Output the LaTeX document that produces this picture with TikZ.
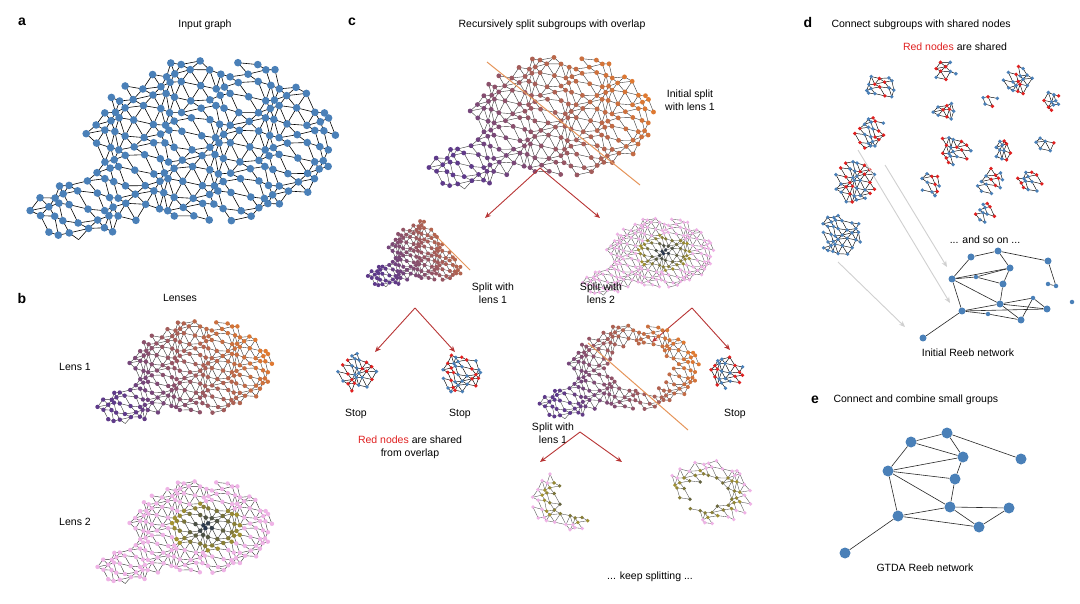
\documentclass[tikz,border=0pt]{standalone}
\usepackage{fontspec}
\setmainfont{Liberation Sans}
\usetikzlibrary{arrows.meta}
\begin{document}
\definecolor{nblue}{HTML}{4A80B8}
\definecolor{lorange}{HTML}{E07A30}
\definecolor{lpurple}{HTML}{5E3A8A}
\definecolor{lpink}{HTML}{EFB3E6}
\definecolor{lolive}{HTML}{A8962E}
\definecolor{lnavy}{HTML}{1E2E50}
\definecolor{nred}{HTML}{E02020}
\definecolor{ared}{HTML}{B83434}
\definecolor{agray}{HTML}{D0D0D0}
\newcommand\ptcalc[2]{%
 \pgfmathsetmacro\px{(#1)+0.5*(#2)+0.28*sin(97*(#1)+53*(#2))}%
 \pgfmathsetmacro\py{0.87*(#2)+0.28*cos(71*(#1)+131*(#2))}%
 \pgfmathsetmacro\qa{(\px-1.4)/9}\pgfmathsetmacro\qb{(\py+0.4)/5.9}%
 \pgfmathsetmacro\qc{(\px+7.7)/4.5}\pgfmathsetmacro\qd{(\py-4.6)/2.2}%
 \pgfmathtruncatemacro\pin{((\qa*\qa+\qb*\qb<1) || (\qc*\qc+\qd*\qd<1)) && (\filt)}}
% #1 cx #2 cy #3 scale #4 mode #5 filter #6 node radius #7 edge style
\newcommand\graphblob[7]{%
 \def\filt{#5}\def\mode{#4}%
 \pgfmathsetmacro\shx{#1}\pgfmathsetmacro\shy{#2}%
 \begin{scope}[shift={(\shx,\shy)},x=#3pt,y=-#3pt]
 \foreach \u in {-15,...,11}{\foreach \v in {-7,...,7}{%
  \ptcalc{\u}{\v}%
  \ifnum\pin=1
   \let\ax\px\let\ay\py
   \pgfmathtruncatemacro\nu{\u+1}\pgfmathtruncatemacro\nv{\v+1}\pgfmathtruncatemacro\nw{\u-1}%
   \ptcalc{\nu}{\v}\ifnum\pin=1 \draw[#7] (\ax,\ay)--(\px,\py);\fi
   \ptcalc{\u}{\nv}\ifnum\pin=1 \draw[#7] (\ax,\ay)--(\px,\py);\fi
   \pgfmathtruncatemacro\keep{sin(37*\u+61*\v)>-0.2}%
   \ptcalc{\nw}{\nv}\ifnum\pin\keep=11 \draw[#7] (\ax,\ay)--(\px,\py);\fi
  \fi}}
 \foreach \u in {-15,...,11}{\foreach \v in {-7,...,7}{%
  \ptcalc{\u}{\v}%
  \ifnum\pin=1
   \ifcase\mode \def\nc{nblue}%
   \or \pgfmathtruncatemacro\t{max(0,min(100,(\px-0.7*\py+11)*100/22))}\def\nc{lorange!\t!lpurple}%
   \or \pgfmathsetmacro\r{sqrt((\px-2.1)*(\px-2.1)+2*(\py+0.4)*(\py+0.4))}%
       \pgfmathtruncatemacro\t{min(100,100*\r/4.5)}%
       \ifdim\r pt>4.5pt \def\nc{lpink}\else\def\nc{lolive!\t!lnavy}\fi
   \or \pgfmathtruncatemacro\rd{sin(113*\u+29*\v)>0.3}%
       \ifnum\rd=1 \def\nc{nred}\else\def\nc{nblue}\fi
   \fi
   \fill[\nc] (\px,\py) circle[radius=#6pt];
  \fi}}
 \end{scope}}
\newcommand\cluster[5]{\graphblob{#1-(#3)*7}{#2-(#4)*7}{7}{3}{(\px-(#3))*(\px-(#3))+(\py-(#4))*(\py-(#4))<#5}{1.9}{black,line width=0.45pt}}
\begin{tikzpicture}[x=1pt,y=-1pt,
  lab/.style={font=\fontsize{10.5}{13}\selectfont,align=center},
  let/.style={font=\bfseries\fontsize{14}{16}\selectfont},
  sp/.style={ared,line width=0.9pt,-{Stealth[length=6pt,width=5pt]}},
  ga/.style={agray,line width=0.9pt,-{Stealth[length=6pt,width=5pt]}},
  cut/.style={lorange!80,line width=1pt},
  rn/.style={circle,fill=nblue,inner sep=0,minimum size=7pt},
  rs/.style={circle,fill=nblue,inner sep=0,minimum size=4.5pt},
  gn/.style={circle,fill=nblue,inner sep=0,minimum size=11pt}]
\useasboundingbox (0,0) rectangle (1080,604);
\fill[white] (0,0) rectangle (1080,604);
% a
\node[let] (la) at (22,22) {a};
\node[lab] (ta) at (205,25) {Input graph};
\graphblob{192}{146}{14}{0}{1}{3.8}{black,line width=0.6pt}
% b
\node[let] (lb) at (22,298) {b};
\node[lab] (tb) at (180,298) {Lenses};
\node[lab] (tl1) at (75,367) {Lens 1};
\node[lab] (tl2) at (75,522) {Lens 2};
\graphblob{190}{370}{8}{1}{1}{2.2}{black!80,line width=0.4pt}
\graphblob{190}{530}{8}{2}{1}{2.2}{black!80,line width=0.4pt}
% c
\node[let] (lc) at (352,22) {c};
\node[lab] (tc) at (552,25) {Recursively split subgroups with overlap};
\graphblob{548}{120}{10.3}{1}{1}{2.4}{black!80,line width=0.4pt}
\coordinate (c1a) at (487,62); \coordinate (c1b) at (640,185);
\draw[cut] (c1a)--(c1b);
\node[lab] (tis) at (690,100) {Initial split\\with lens 1};
\coordinate (ap1) at (540,168); \coordinate (e1a) at (485,218); \coordinate (e1b) at (600,218);
\draw[sp] (ap1)--(e1a); \draw[sp] (ap1)--(e1b);
\graphblob{428}{252}{5.2}{1}{\px-0.8*\py<4.2}{2}{black!80,line width=0.35pt}
\coordinate (c2a) at (438,238); \coordinate (c2b) at (470,270);
\draw[cut] (c2a)--(c2b);
\graphblob{652}{255}{6}{2}{1}{1.8}{black!70,line width=0.35pt}
\node[lab] (ts1) at (493,293) {Split with\\lens 1};
\node[lab] (ts2) at (601,293) {Split with\\lens 2};
\coordinate (ap2) at (415,308); \coordinate (e2a) at (375,352); \coordinate (e2b) at (455,352);
\draw[sp] (ap2)--(e2a); \draw[sp] (ap2)--(e2b);
\coordinate (ap3) at (692,308); \coordinate (e3a) at (652,342); \coordinate (e3b) at (730,350);
\draw[sp] (ap3)--(e3a); \draw[sp] (ap3)--(e3b);
\cluster{357}{372}{2}{-1}{8}
\cluster{460}{374}{-1}{0}{9}
\cluster{727}{372}{3}{1}{6}
\node[lab] (st1) at (356,414) {Stop};
\node[lab] (st2) at (460,414) {Stop};
\node[lab] (st3) at (735,414) {Stop};
\node[lab] (trn) at (410,447) {\textcolor{nred}{Red nodes} are shared\\from overlap};
\graphblob{624}{370}{7.3}{1}{(\px-2.1)*(\px-2.1)+2*(\py+0.4)*(\py+0.4)>17.6}{2}{black!80,line width=0.35pt}
\coordinate (c3a) at (588,343); \coordinate (c3b) at (688,430);
\draw[cut] (c3a)--(c3b);
\node[lab] (ts3) at (553,433) {Split with\\lens 1};
\coordinate (ap4) at (580,432); \coordinate (e4a) at (540,462); \coordinate (e4b) at (622,462);
\draw[sp] (ap4)--(e4a); \draw[sp] (ap4)--(e4b);
\graphblob{560}{502}{8}{2}{(\px-2.1)*(\px-2.1)+2*(\py+0.4)*(\py+0.4)<36 && (\px-2.1)*(\px-2.1)+2*(\py+0.4)*(\py+0.4)>5 && \px-0.8*\py<2.1}{1.9}{black!70,line width=0.35pt}
\graphblob{690}{497}{8}{2}{(\px-2.1)*(\px-2.1)+2*(\py+0.4)*(\py+0.4)<36 && (\px-2.1)*(\px-2.1)+2*(\py+0.4)*(\py+0.4)>5 && \px-0.8*\py>-1.4 && \px>-5.6}{1.9}{black!70,line width=0.35pt}
\node[lab] (tks) at (650,577) {... keep splitting ...};
% d
\node[let] (ld) at (808,22) {d};
\node[lab,anchor=west] (td) at (828,25) {Connect subgroups with shared nodes};
\node[lab] (trd) at (955,47) {\textcolor{nred}{Red nodes} are shared};
\cluster{880}{87}{0}{-2}{5}
\cluster{945}{72}{4}{-1}{2.5}
\cluster{1018}{82}{-2}{2}{5}
\cluster{1050}{100}{5}{0}{3}
\cluster{870}{132}{-6}{3}{6}
\cluster{945}{112}{1}{1}{3}
\cluster{990}{102}{3}{-3}{1.5}
\cluster{955}{150}{-1}{-2}{6}
\cluster{1005}{150}{6}{-2}{2.5}
\cluster{1045}{145}{0}{2}{2}
\cluster{855}{182}{2}{0}{10}
\cluster{930}{185}{-3}{1}{3}
\cluster{990}{182}{4}{2}{4}
\cluster{1030}{182}{-1}{-1}{3.5}
\cluster{985}{212}{2}{-3}{2.5}
\graphblob{840-7*(-1)}{235-7*(1)}{7}{0}{(\px+1)*(\px+1)+(\py-1)*(\py-1)<10}{1.9}{black,line width=0.45pt}
\coordinate (g1a) at (885,165); \coordinate (g1b) at (947,267);
\coordinate (g2a) at (858,150); \coordinate (g2b) at (950,303);
\coordinate (g3a) at (838,262); \coordinate (g3b) at (905,327);
\draw[ga] (g1a)--(g1b); \draw[ga] (g2a)--(g2b); \draw[ga] (g3a)--(g3b);
\node[lab] (tso) at (985,240) {... and so on ...};
\node[rn] (rA) at (971,257) {}; \node[rn] (rB) at (998,251) {};
\node[rn] (rC) at (1048,261) {}; \node[rn] (rD) at (1010,268) {};
\node[rn] (rE) at (952,279) {}; \node[rs] (rF) at (976,277) {};
\node[rn] (rG) at (1003,284) {}; \node[rs] (rH) at (1048,284) {};
\node[rs] (rI) at (1056,286) {}; \node[rs] (rJ) at (1072,302) {};
\node[rs] (rK) at (1033,298) {}; \node[rn] (rL) at (1000,304) {};
\node[rn] (rM) at (1047,309) {}; \node[rn] (rN) at (962,311) {};
\node[rs] (rO) at (988,314) {}; \node[rn] (rP) at (1021,320) {};
\node[rn] (rQ) at (923,338) {};
\foreach \a/\b in {rA/rB,rB/rC,rC/rI,rH/rI,rA/rE,rB/rD,rD/rF,rE/rF,rE/rD,rF/rG,rD/rG,rG/rL,rE/rN,rN/rL,rN/rO,rO/rP,rL/rP,rL/rK,rL/rM,rK/rM,rK/rP,rN/rM,rE/rL,rN/rQ}
 \draw[black!85,line width=0.6pt] (\a)--(\b);
\node[lab] (tir) at (968,353) {Initial Reeb network};
% e
\node[let] (le) at (815,400) {e};
\node[lab,anchor=west] (te) at (830,400) {Connect and combine small groups};
\node[gn] (e1) at (911,442) {}; \node[gn] (e2) at (947,433) {};
\node[gn] (e3) at (963,457) {}; \node[gn] (e4) at (1021,459) {};
\node[gn] (e5) at (888,471) {}; \node[gn] (e6) at (955,479) {};
\node[gn] (e7) at (950,507) {}; \node[gn] (e8) at (1009,508) {};
\node[gn] (e9) at (898,516) {}; \node[gn] (e10) at (979,527) {};
\node[gn] (e11) at (845,553) {};
\foreach \a/\b in {e1/e2,e1/e3,e2/e3,e2/e4,e1/e5,e5/e3,e5/e6,e3/e6,e6/e7,e5/e7,e5/e9,e9/e7,e9/e10,e7/e8,e7/e10,e10/e8,e9/e11}
 \draw[black!85,line width=0.6pt] (\a)--(\b);
\node[lab] (tg) at (925,568) {GTDA Reeb network};
\end{tikzpicture}
\end{document}
